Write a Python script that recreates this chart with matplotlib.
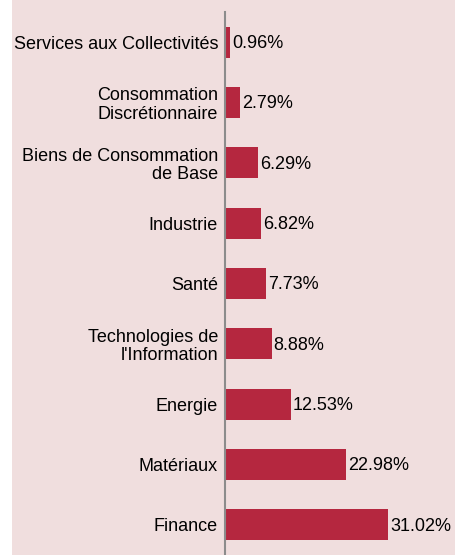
import matplotlib.pyplot as plt
import matplotlib.patches as mpatches

# sectors from top to bottom
sectors = ['Services aux Collectivités', 'Consommation\nDiscrétionnaire',
           'Biens de Consommation\nde Base', 'Industrie', 'Santé',
           'Technologies de\nl\'Information', 'Energie', 'Matériaux', 'Finance']
weights = [0.96, 2.79, 6.29, 6.82, 7.73, 8.88, 12.53, 22.98, 31.02]

bg = '#f0dede'
bar_color = '#b5273f'

plt.rcParams['font.family'] = ['Liberation Sans', 'DejaVu Sans']

fig = plt.figure(figsize=(4.56, 5.55), dpi=100, facecolor='white')
# pink panel, leaving a thin white strip on the left
fig.patches.append(mpatches.Rectangle((12 / 456, 0), 1, 1, transform=fig.transFigure,
                                      facecolor=bg, edgecolor='none', zorder=-5))

ax = fig.add_axes([225 / 456, 0, 231 / 456, 543 / 555])
ax.set_facecolor(bg)

ypos = list(range(len(sectors)))
ax.barh(ypos, weights, height=0.51, color=bar_color)
ax.set_ylim(len(sectors) - 0.5, -0.5)
ax.set_xlim(0, 44)

ax.set_yticks(ypos)
ax.set_yticklabels(sectors, fontsize=13, linespacing=1.1)
ax.tick_params(axis='y', length=0, pad=5)
ax.set_xticks([])

for y, w in zip(ypos, weights):
    ax.annotate(f'{w:.2f}%', xy=(w, y), xytext=(1.5, -1), textcoords='offset points',
                va='center', ha='left', fontsize=13)

for s in ['top', 'right', 'bottom']:
    ax.spines[s].set_visible(False)
ax.spines['left'].set_color('#8c8c8c')
ax.spines['left'].set_linewidth(1.5)

fig.savefig('out.png', dpi=100, facecolor=fig.get_facecolor())
